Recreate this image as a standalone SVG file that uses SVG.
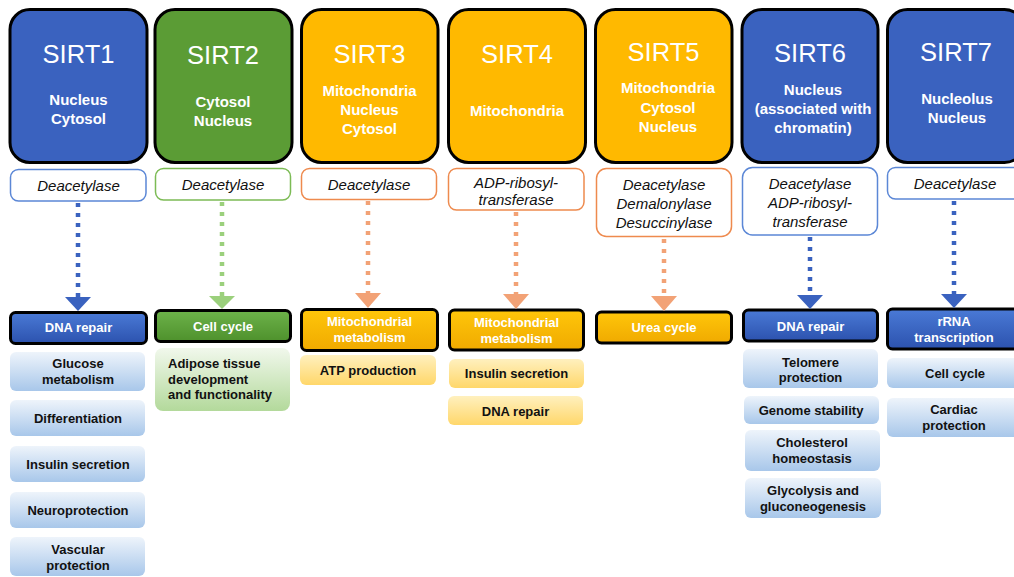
<svg xmlns="http://www.w3.org/2000/svg" width="1014" height="577" viewBox="0 0 1014 577">
<defs>
<linearGradient id="gBlueCat" x1="0" y1="0" x2="0" y2="1"><stop offset="0" stop-color="#4A7AD6"/><stop offset="1" stop-color="#2C52AE"/></linearGradient>
<linearGradient id="gGreenCat" x1="0" y1="0" x2="0" y2="1"><stop offset="0" stop-color="#6DB24A"/><stop offset="1" stop-color="#4E912C"/></linearGradient>
<linearGradient id="gYelCat" x1="0" y1="0" x2="0" y2="1"><stop offset="0" stop-color="#FFC60A"/><stop offset="1" stop-color="#F0AA00"/></linearGradient>
<linearGradient id="gBlueSub" x1="0" y1="0" x2="0" y2="1"><stop offset="0" stop-color="#EEF4FB"/><stop offset="1" stop-color="#A8C7EA"/></linearGradient>
<linearGradient id="gGreenSub" x1="0" y1="0" x2="0" y2="1"><stop offset="0" stop-color="#F1F8EC"/><stop offset="1" stop-color="#B3D99B"/></linearGradient>
<linearGradient id="gYelSub" x1="0" y1="0" x2="0" y2="1"><stop offset="0" stop-color="#FFF0BE"/><stop offset="1" stop-color="#FFD76A"/></linearGradient>
</defs>
<style>
.card{stroke:#000;stroke-width:3}
.blue{fill:#3A62BF}
.green{fill:#5B9C35}
.amber{fill:#FFB900}
.title{font-family:"Liberation Sans",Arial,sans-serif;font-size:25.5px;fill:#fff;text-anchor:middle}
.loc{font-family:"Liberation Sans",Arial,sans-serif;font-size:15px;font-weight:bold;fill:#fff;text-anchor:middle}
.act{fill:#fff;stroke-width:1.5}
.actB{stroke:#5B87D6}
.actG{stroke:#7CBB55}
.actO{stroke:#EE8A4E}
.actT{font-family:"Liberation Sans",Arial,sans-serif;font-size:15px;font-style:italic;fill:#111;text-anchor:middle}
.cat{stroke:#000;stroke-width:3}
.catT{font-family:"Liberation Sans",Arial,sans-serif;font-size:13px;font-weight:bold;fill:#fff;text-anchor:middle}
.subT{font-family:"Liberation Sans",Arial,sans-serif;font-size:13px;font-weight:bold;fill:#111;text-anchor:middle}
.subL{font-family:"Liberation Sans",Arial,sans-serif;font-size:13px;font-weight:bold;fill:#111;text-anchor:start}
.dB{stroke:#3A62BF}
.dG{stroke:#9BD07C}
.dO{stroke:#F2A276}
.dash{stroke-width:4.5;stroke-dasharray:4 6;fill:none}
.hB{fill:#3A62BF}
.hG{fill:#9BD07C}
.hO{fill:#F2A276}
</style>

<!-- SIRT1 -->
<g id="sirt1-card"><rect class="card blue" x="10" y="9.5" width="137" height="153" rx="20"/>
<text class="title" x="78.5" y="63">SIRT1</text>
<text class="loc" x="78.5" y="105">Nucleus</text><text class="loc" x="78.5" y="124">Cytosol</text></g>
<g id="sirt1-activity"><rect class="act actB" x="10.5" y="169.5" width="135.5" height="31.5" rx="8"/>
<text class="actT" x="78.5" y="190.5">Deacetylase</text></g>
<g id="sirt1-category"><rect class="cat" fill="url(#gBlueCat)" x="10.5" y="312.5" width="136" height="31" rx="5"/>
<text class="catT" x="78.5" y="332">DNA repair</text></g>
<g id="sirt1-glucose"><rect fill="url(#gBlueSub)" x="10" y="352" width="135" height="39" rx="6"/>
<text class="subT" x="78" y="368">Glucose</text><text class="subT" x="78" y="384">metabolism</text></g>
<g id="sirt1-differentiation"><rect fill="url(#gBlueSub)" x="10" y="400" width="135" height="36" rx="6"/>
<text class="subT" x="78" y="423">Differentiation</text></g>
<g id="sirt1-insulin"><rect fill="url(#gBlueSub)" x="10" y="446" width="135" height="36" rx="6"/>
<text class="subT" x="78" y="469">Insulin secretion</text></g>
<g id="sirt1-neuro"><rect fill="url(#gBlueSub)" x="10" y="492" width="135" height="36" rx="6"/>
<text class="subT" x="78" y="515">Neuroprotection</text></g>
<g id="sirt1-vascular"><rect fill="url(#gBlueSub)" x="10" y="537" width="135" height="39" rx="6"/>
<text class="subT" x="78" y="554">Vascular</text><text class="subT" x="78" y="570">protection</text></g>

<!-- SIRT2 -->
<g id="sirt2-card"><rect class="card green" x="155" y="9.5" width="137" height="153" rx="20"/>
<text class="title" x="223" y="64">SIRT2</text>
<text class="loc" x="223" y="107">Cytosol</text><text class="loc" x="223" y="126">Nucleus</text></g>
<g id="sirt2-activity"><rect class="act actG" x="155.5" y="168.5" width="135" height="31.5" rx="8"/>
<text class="actT" x="223" y="190">Deacetylase</text></g>
<g id="sirt2-category"><rect class="cat" fill="url(#gGreenCat)" x="155.5" y="310.5" width="135" height="31" rx="5"/>
<text class="catT" x="223" y="331">Cell cycle</text></g>
<g id="sirt2-adipose"><rect fill="url(#gGreenSub)" x="155" y="348" width="135" height="63" rx="8"/>
<text class="subL" x="168" y="368">Adipose tissue</text>
<text class="subL" x="168" y="384">development</text>
<text class="subL" x="168" y="399">and functionality</text></g>

<!-- SIRT3 -->
<g id="sirt3-card"><rect class="card amber" x="301.5" y="9.5" width="136.5" height="153" rx="20"/>
<text class="title" x="369.5" y="63">SIRT3</text>
<text class="loc" x="369.5" y="96">Mitochondria</text><text class="loc" x="369.5" y="115">Nucleus</text><text class="loc" x="369.5" y="134">Cytosol</text></g>
<g id="sirt3-activity"><rect class="act actO" x="301.5" y="168.5" width="135" height="31" rx="8"/>
<text class="actT" x="369" y="189.5">Deacetylase</text></g>
<g id="sirt3-category"><rect class="cat" fill="url(#gYelCat)" x="301.5" y="309.5" width="136" height="41" rx="5"/>
<text class="catT" x="369.5" y="325.5">Mitochondrial</text><text class="catT" x="369.5" y="341.5">metabolism</text></g>
<g id="sirt3-atp"><rect fill="url(#gYelSub)" x="300" y="355" width="136" height="30" rx="6"/>
<text class="subT" x="368" y="374.5">ATP production</text></g>

<!-- SIRT4 -->
<g id="sirt4-card"><rect class="card amber" x="448.5" y="9.5" width="137" height="153" rx="20"/>
<text class="title" x="517" y="63">SIRT4</text>
<text class="loc" x="517" y="116">Mitochondria</text></g>
<g id="sirt4-activity"><rect class="act actO" x="448.5" y="168.5" width="135.5" height="41.5" rx="8"/>
<text class="actT" x="516" y="187.5">ADP-ribosyl-</text><text class="actT" x="516" y="204.5">transferase</text></g>
<g id="sirt4-category"><rect class="cat" fill="url(#gYelCat)" x="449.5" y="310" width="134" height="40" rx="5"/>
<text class="catT" x="516.5" y="326.5">Mitochondrial</text><text class="catT" x="516.5" y="342.5">metabolism</text></g>
<g id="sirt4-insulin"><rect fill="url(#gYelSub)" x="449" y="359" width="135" height="29" rx="6"/>
<text class="subT" x="516.5" y="378">Insulin secretion</text></g>
<g id="sirt4-dna"><rect fill="url(#gYelSub)" x="448" y="396" width="135" height="29" rx="6"/>
<text class="subT" x="515.5" y="415.5">DNA repair</text></g>

<!-- SIRT5 -->
<g id="sirt5-card"><rect class="card amber" x="595.5" y="9.5" width="136.5" height="153" rx="20"/>
<text class="title" x="663.5" y="61">SIRT5</text>
<text class="loc" x="668" y="93">Mitochondria</text><text class="loc" x="668" y="113">Cytosol</text><text class="loc" x="668" y="132">Nucleus</text></g>
<g id="sirt5-activity"><rect class="act actO" x="596.5" y="168.5" width="135" height="68" rx="10"/>
<text class="actT" x="664" y="189.5">Deacetylase</text><text class="actT" x="664" y="208.5">Demalonylase</text><text class="actT" x="664" y="228">Desuccinylase</text></g>
<g id="sirt5-category"><rect class="cat" fill="url(#gYelCat)" x="596.5" y="312" width="135" height="31" rx="5"/>
<text class="catT" x="664" y="332">Urea cycle</text></g>

<!-- SIRT6 -->
<g id="sirt6-card"><rect class="card blue" x="742" y="9.5" width="136" height="153" rx="20"/>
<text class="title" x="810" y="62">SIRT6</text>
<text class="loc" x="813" y="95">Nucleus</text><text class="loc" x="813" y="114">(associated with</text><text class="loc" x="813" y="133">chromatin)</text></g>
<g id="sirt6-activity"><rect class="act actB" x="742.5" y="167.5" width="135" height="67.5" rx="10"/>
<text class="actT" x="810" y="188.5">Deacetylase</text><text class="actT" x="810" y="207.5">ADP-ribosyl-</text><text class="actT" x="810" y="226.5">transferase</text></g>
<g id="sirt6-category"><rect class="cat" fill="url(#gBlueCat)" x="743.5" y="310" width="134" height="31" rx="5"/>
<text class="catT" x="810.5" y="330.5">DNA repair</text></g>
<g id="sirt6-telomere"><rect fill="url(#gBlueSub)" x="743" y="349" width="135" height="39" rx="6"/>
<text class="subT" x="810.5" y="366.5">Telomere</text><text class="subT" x="810.5" y="382">protection</text></g>
<g id="sirt6-genome"><rect fill="url(#gBlueSub)" x="744" y="396" width="135" height="28" rx="6"/>
<text class="subT" x="811" y="414.5">Genome stability</text></g>
<g id="sirt6-cholesterol"><rect fill="url(#gBlueSub)" x="745" y="430" width="135" height="41" rx="6"/>
<text class="subT" x="812" y="446.5">Cholesterol</text><text class="subT" x="812" y="462.5">homeostasis</text></g>
<g id="sirt6-glycolysis"><rect fill="url(#gBlueSub)" x="745" y="478" width="136" height="40" rx="6"/>
<text class="subT" x="813" y="494.5">Glycolysis and</text><text class="subT" x="813" y="510.5">gluconeogenesis</text></g>

<!-- SIRT7 -->
<g id="sirt7-card"><rect class="card blue" x="887.5" y="9.5" width="137" height="153" rx="20"/>
<text class="title" x="956" y="61">SIRT7</text>
<text class="loc" x="957" y="104">Nucleolus</text><text class="loc" x="957" y="123">Nucleus</text></g>
<g id="sirt7-activity"><rect class="act actB" x="887.5" y="167.5" width="137" height="31.5" rx="8"/>
<text class="actT" x="955" y="188.5">Deacetylase</text></g>
<g id="sirt7-category"><rect class="cat" fill="url(#gBlueCat)" x="887.5" y="309" width="137" height="40" rx="5"/>
<text class="catT" x="954" y="325.5">rRNA</text><text class="catT" x="954" y="341.5">transcription</text></g>
<g id="sirt7-cellcycle"><rect fill="url(#gBlueSub)" x="887" y="358" width="137" height="30" rx="6"/>
<text class="subT" x="955" y="377.5">Cell cycle</text></g>
<g id="sirt7-cardiac"><rect fill="url(#gBlueSub)" x="887" y="398" width="137" height="39" rx="6"/>
<text class="subT" x="954" y="413.5">Cardiac</text><text class="subT" x="954" y="429.5">protection</text></g>

<!-- connectors -->
<g id="connectors">
<line class="dash dB" x1="78" y1="203" x2="78" y2="297"/><polygon class="hB" points="65,297 91,297 78,311"/>
<line class="dash dG" x1="222" y1="202" x2="222" y2="296"/><polygon class="hG" points="209,296 235,296 222,309"/>
<line class="dash dO" x1="368" y1="201" x2="368" y2="294"/><polygon class="hO" points="355,293 381,293 368,308"/>
<line class="dash dO" x1="516" y1="212" x2="516" y2="294"/><polygon class="hO" points="503,294 529,294 516,309"/>
<line class="dash dO" x1="664" y1="239" x2="664" y2="296"/><polygon class="hO" points="651,296 677,296 664,311"/>
<line class="dash dB" x1="810" y1="237" x2="810" y2="295"/><polygon class="hB" points="797,295 823,295 810,309"/>
<line class="dash dB" x1="954" y1="201" x2="954" y2="294"/><polygon class="hB" points="941,294 967,294 954,308"/>
</g>
</svg>
